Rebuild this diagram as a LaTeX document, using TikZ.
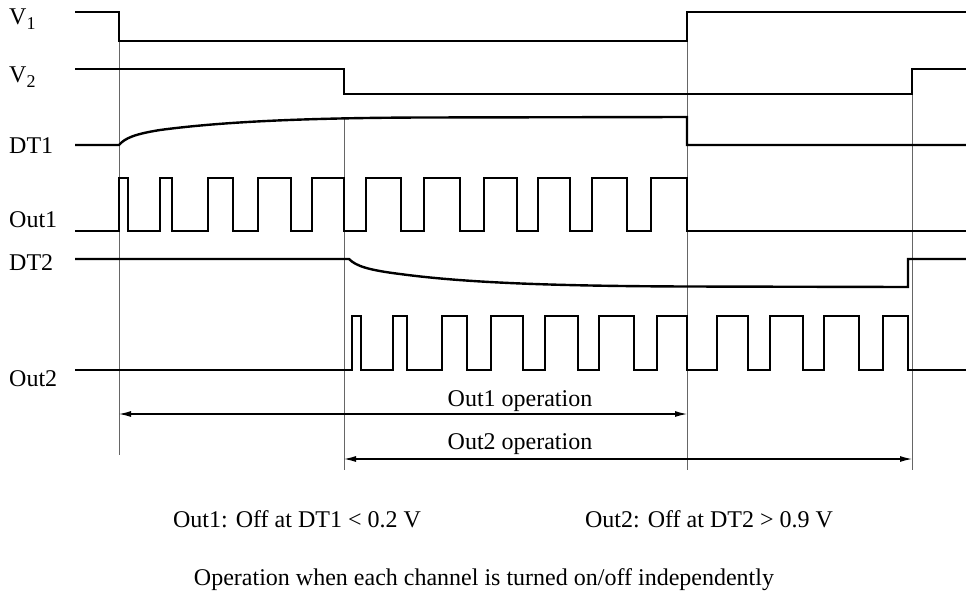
\documentclass[tikz,border=0pt]{standalone}
\usepackage{fontspec}
\setmainfont{Liberation Serif}
\usetikzlibrary{arrows.meta,positioning}
\tikzset{
  sig/.style={line width=2.4pt, line join=miter},
  guide/.style={line width=0.9pt, black!60},
  span/.style={line width=1.1pt, {Latex[length=12pt,width=6pt]}-{Latex[length=12pt,width=6pt]}},
  lbl/.style={font=\fontsize{24}{28}\selectfont, inner sep=0pt, anchor=base west},
  note/.style={font=\fontsize{24}{28}\selectfont, inner sep=0pt, anchor=base}
}
\newcommand{\lowsub}[1]{\raisebox{-5pt}{\fontsize{18}{20}\selectfont #1}}

\begin{document}
\begin{tikzpicture}[x=1pt,y=-1pt]
\useasboundingbox (0,0) rectangle (966,592);
% guide lines
\draw[guide] (119,12) -- (119,455);
\draw[guide] (344,119) -- (344,470);
\draw[guide] (687,12) -- (687,470);
\draw[guide] (912,69) -- (912,470);
% signals
\draw[sig] (75,12) -- (119,12) -- (119,41) -- (687,41) -- (687,12) -- (966,12);
\draw[sig] (75,69) -- (344,69) -- (344,94) -- (912,94) -- (912,69) -- (966,69);
\draw[sig] (75,145) -- (119,145) .. controls (125,138) and (135,134) .. (160,130)
  .. controls (220,122) and (300,118) .. (420,117.5) -- (687,117) -- (687,145) -- (966,145);
\draw[sig] (75,231) foreach \u/\d in {119/128,160/172,208/233,258/291,312/344,366/401,
  424/460,484/517,538/570,592/627,651/687} { -- (\u,231) -- (\u,178) -- (\d,178) -- (\d,231) } -- (966,231);
\draw[sig] (75,259) -- (349,259) .. controls (356,266) and (368,270) .. (400,274)
  .. controls (460,282) and (540,286) .. (687,286.5) -- (908,287) -- (908,259) -- (966,259);
\draw[sig] (75,370) foreach \u/\d in {352/361,393/407,442/467,491/523,545/578,599/634,
  657/687,717/748,770/803,824/859,883/908} { -- (\u,370) -- (\u,316) -- (\d,316) -- (\d,370) } -- (966,370);
% labels
\node[lbl] (v1) at (9,24) {V\lowsub{1}};
\node[lbl] (v2) at (9,82) {V\lowsub{2}};
\node[lbl] (dt1) at (9,153) {DT1};
\node[lbl] (out1) at (9,227) {Out1};
\node[lbl] (dt2) at (9,270) {DT2};
\node[lbl] (out2) at (9,386) {Out2};
% operation spans
\coordinate (op1l) at (119,414);
\coordinate (op1r) at (687,414);
\coordinate (op2l) at (344,459);
\coordinate (op2r) at (912,459);
\draw[span] (op1l) -- (op1r);
\draw[span] (op2l) -- (op2r);
\node[note] (op1) at (520,406) {Out1 operation};
\node[note] (op2) at (520,449) {Out2 operation};
% notes
\node[note] (off1) at (297,527) {Out1: Off at DT1 < 0.2 V};
\node[note] (off2) at (709,527) {Out2: Off at DT2 > 0.9 V};
\node[note] (cap) at (484,585) {Operation when each channel is turned on/off independently};
\end{tikzpicture}
\end{document}
